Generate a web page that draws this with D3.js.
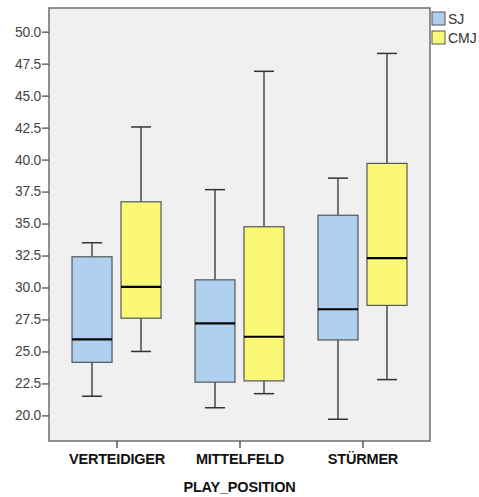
<!DOCTYPE html>
<html>
<head>
<meta charset="utf-8">
<script src="https://cdn.jsdelivr.net/npm/d3@7"></script>
<style>
  body { margin: 0; background: #fff; }
  svg { display: block; font-family: "Liberation Sans", Arial, sans-serif; }
</style>
</head>
<body>
<div id="chart"></div>
<script>
// values
var positions = ["VERTEIDIGER", "MITTELFELD", "STÜRMER"];
var seriesNames = ["SJ", "CMJ"];
var seriesColors = ["#aed0ee", "#fbf878"];
var yTicks = [20, 22.5, 25, 27.5, 30, 32.5, 35, 37.5, 40, 42.5, 45, 47.5, 50];

// [min, q1, median, q3, max] per position
var sjStats = [
  [21.5, 24.15, 25.95, 32.4, 33.5],
  [20.6, 22.6, 27.2, 30.6, 37.65],
  [19.7, 25.9, 28.3, 35.65, 38.55]
];
var cmjStats = [
  [25.0, 27.6, 30.05, 36.7, 42.55],
  [21.7, 22.7, 26.15, 34.75, 46.9],
  [22.8, 28.6, 32.3, 39.7, 48.3]
];

var width = 479, height = 497;
var margin = {top: 8, right: 49, bottom: 56, left: 49};
var innerW = width - margin.left - margin.right,
    innerH = height - margin.top - margin.bottom;

var svg = d3.select("#chart").append("svg")
  .attr("width", width).attr("height", height);

var g = svg.append("g")
  .attr("transform", "translate(" + margin.left + "," + margin.top + ")");

var x = d3.scalePoint().domain(positions).range([0, innerW]).padding(0.549);
var y = d3.scaleLinear().domain([18.0, 51.85]).range([innerH, 0]);

g.append("rect")
  .attr("width", innerW).attr("height", innerH)
  .attr("fill", "#f0f0f0");

var boxW = 40, offset = 24.5;
var data = [];
positions.forEach(function(p, i) {
  data.push({pos: p, s: 0, v: sjStats[i]});
  data.push({pos: p, s: 1, v: cmjStats[i]});
});

var boxes = g.selectAll("g.box").data(data).enter().append("g")
  .attr("class", "box")
  .attr("transform", function(d) {
    return "translate(" + (x(d.pos) + (d.s === 0 ? -offset : offset)) + ",0)";
  });

boxes.append("line")
  .attr("x1", 0).attr("x2", 0)
  .attr("y1", function(d) { return y(d.v[4]); })
  .attr("y2", function(d) { return y(d.v[0]); })
  .attr("stroke", "#4a4a4a").attr("stroke-width", 1.5);

boxes.selectAll("line.cap").data(function(d) { return [d.v[0], d.v[4]]; })
  .enter().append("line")
  .attr("class", "cap")
  .attr("x1", -10).attr("x2", 10)
  .attr("y1", function(v) { return y(v); })
  .attr("y2", function(v) { return y(v); })
  .attr("stroke", "#333").attr("stroke-width", 1.5);

boxes.append("rect")
  .attr("x", -boxW / 2).attr("width", boxW)
  .attr("y", function(d) { return y(d.v[3]); })
  .attr("height", function(d) { return y(d.v[1]) - y(d.v[3]); })
  .attr("fill", function(d) { return seriesColors[d.s]; })
  .attr("stroke", "#555").attr("stroke-width", 1.2);

boxes.append("line")
  .attr("x1", -boxW / 2).attr("x2", boxW / 2)
  .attr("y1", function(d) { return y(d.v[2]); })
  .attr("y2", function(d) { return y(d.v[2]); })
  .attr("stroke", "#000").attr("stroke-width", 2.2);

// frame
g.append("rect")
  .attr("width", innerW).attr("height", innerH)
  .attr("fill", "none").attr("stroke", "#6e6e6e").attr("stroke-width", 1.5);

var yAxis = g.append("g")
  .call(d3.axisLeft(y).tickValues(yTicks).tickFormat(d3.format(".1f")).tickSize(7).tickPadding(1));
yAxis.select(".domain").remove();
yAxis.selectAll(".tick line").attr("stroke", "#444").attr("stroke-width", 1.2);
yAxis.selectAll(".tick text").attr("fill", "#444").attr("font-size", "13.8px")
  .style("font-family", "'Liberation Sans', Arial, sans-serif").style("letter-spacing", "-0.2px");

var xAxis = g.append("g")
  .attr("transform", "translate(0," + innerH + ")")
  .call(d3.axisBottom(x).tickSize(7).tickPadding(6));
xAxis.select(".domain").remove();
xAxis.selectAll(".tick line").attr("stroke", "#333").attr("stroke-width", 1.2);
xAxis.selectAll(".tick text").attr("fill", "#111").attr("font-size", "14.5px")
  .attr("font-weight", "bold")
  .style("font-family", "'Liberation Sans', Arial, sans-serif").style("letter-spacing", "-0.2px");

svg.append("text")
  .attr("x", margin.left + x("MITTELFELD")).attr("y", 492)
  .attr("text-anchor", "middle")
  .attr("font-size", "14.5px").attr("font-weight", "bold").attr("fill", "#111")
  .style("letter-spacing", "-0.2px")
  .text("PLAY_POSITION");

// legend
var legend = svg.selectAll("g.legend").data(seriesNames).enter().append("g")
  .attr("class", "legend")
  .attr("transform", function(d, i) { return "translate(432," + (12 + i * 19) + ")"; });
legend.append("rect")
  .attr("width", 13).attr("height", 13)
  .attr("fill", function(d, i) { return seriesColors[i]; })
  .attr("stroke", "#555").attr("stroke-width", 1);
legend.append("text")
  .attr("x", 16).attr("y", 12)
  .attr("font-size", "14px").attr("fill", "#333")
  .text(function(d) { return d; });
</script>
</body>
</html>
